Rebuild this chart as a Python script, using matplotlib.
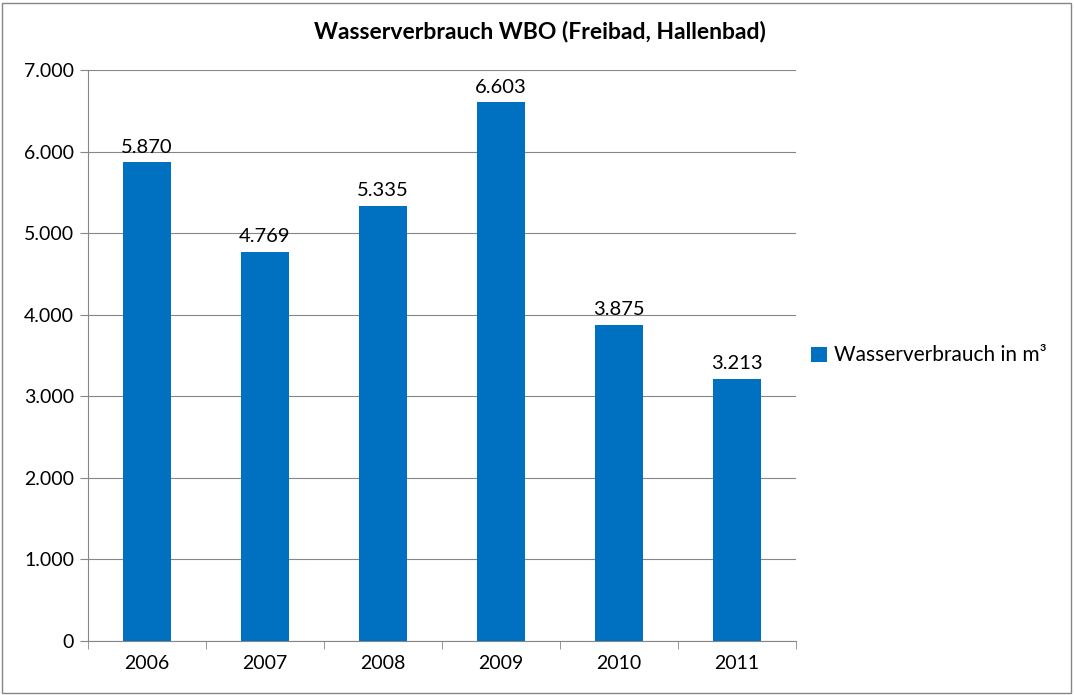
import matplotlib.pyplot as plt
from matplotlib.patches import Rectangle
from matplotlib.ticker import FuncFormatter, FixedLocator

years = ["2006", "2007", "2008", "2009", "2010", "2011"]
values = [5870, 4769, 5335, 6603, 3875, 3213]
series_name = "Wasserverbrauch in m³"
title = "Wasserverbrauch WBO (Freibad, Hallenbad)"

BAR = "#0070C0"
GRID = "#868686"

plt.rcParams["font.family"] = ["Lato", "DejaVu Sans"]


def de_fmt(v, _pos=None):
    return f"{int(round(v)):,}".replace(",", ".")


fig = plt.figure(figsize=(10.74, 6.95), dpi=100)
ax = fig.add_axes([88 / 1074, 1 - 641 / 695, 708 / 1074, 571 / 695])

x = range(len(years))
ax.bar(x, values, width=0.4, color=BAR, zorder=3, label=series_name)
for xi, v in zip(x, values):
    ax.text(xi, v + 80, de_fmt(v), ha="center", va="bottom", fontsize=14.5)

ax.set_xlim(-0.5, len(years) - 0.5)
ax.set_ylim(0, 7000)
ax.set_yticks(range(0, 7001, 1000))
ax.yaxis.set_major_formatter(FuncFormatter(de_fmt))
ax.set_xticks(list(x))
ax.set_xticklabels(years)
ax.xaxis.set_minor_locator(FixedLocator([i - 0.5 for i in range(len(years) + 1)]))
ax.tick_params(axis="x", which="major", length=0, pad=10, labelsize=14)
ax.tick_params(axis="x", which="minor", length=6, color=GRID, direction="out")
ax.tick_params(axis="y", length=6, color=GRID, direction="out", labelsize=14, pad=4)

ax.grid(axis="y", color=GRID, lw=0.8, zorder=0)
for side in ["top", "right"]:
    ax.spines[side].set_visible(False)
ax.spines["left"].set_color(GRID)
ax.spines["bottom"].set_color(GRID)

fig.text(540 / 1074, 1 - 32 / 695, title, ha="center", va="center",
         fontsize=16.5, fontweight="bold")

ax.legend(loc="center left", bbox_to_anchor=(0.995, 0.5), frameon=False,
          fontsize=15, handlelength=0.75, handleheight=0.75, handletextpad=0.35)

fig.patches.append(Rectangle((2 / 1074, 2 / 695), 1069 / 1074, 690 / 695,
                             transform=fig.transFigure, fill=False,
                             edgecolor=GRID, lw=1))

fig.savefig("out.png", dpi=100)
